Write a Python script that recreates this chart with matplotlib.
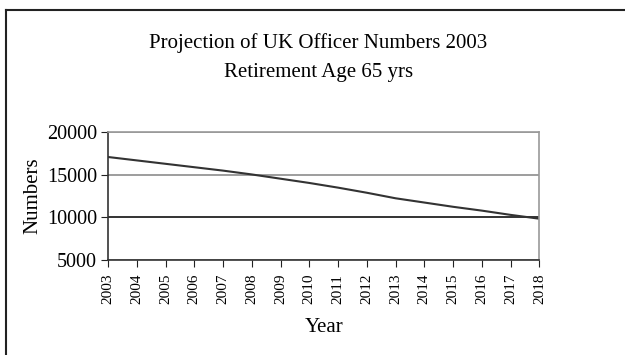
import matplotlib
matplotlib.use("Agg")
import matplotlib.pyplot as plt
from matplotlib.lines import Line2D

plt.rcParams['font.family'] = ['Liberation Serif', 'DejaVu Serif']

# projected officer numbers, retirement age 65
years = list(range(2003, 2019))
numbers = [17100, 16700, 16300, 15900, 15500, 15050, 14550, 14050,
           13500, 12900, 12250, 11750, 11250, 10800, 10300, 9850]
y_ticks = [5000, 10000, 15000, 20000]

fig = plt.figure(figsize=(6.25, 3.55), dpi=100)
ax = fig.add_axes([0.1728, 0.2676, 0.863 - 0.1728, 0.6273 - 0.2676])

ax.plot(years, numbers, color='#333333', linewidth=1.5)

ax.set_xlim(2003, 2018)
ax.set_ylim(5000, 20000)
ax.set_xticks(years)
ax.set_xticklabels([str(y) for y in years], rotation=90, fontsize=11)
ax.set_yticks(y_ticks)
ax.set_yticklabels([str(v) for v in y_ticks], fontsize=14.5)
ax.tick_params(axis='both', direction='out', length=5, width=0.8, color='#222222')
ax.tick_params(axis='x', pad=5)
ax.tick_params(axis='y', pad=3)

# horizontal grid lines, the 10000 line is drawn darker
ax.yaxis.grid(True)
for val, gl in zip(y_ticks, ax.yaxis.get_gridlines()):
    if val == 10000:
        gl.set_color('#111111')
    else:
        gl.set_color('#8c8c8c')
    gl.set_linewidth(1.2)
ax.set_axisbelow(True)

ax.spines['left'].set_color('#333333')
ax.spines['bottom'].set_color('#333333')
ax.spines['top'].set_color('#999999')
ax.spines['right'].set_color('#999999')
for s in ax.spines.values():
    s.set_linewidth(1.2)

ax.set_ylabel('Numbers', fontsize=15, labelpad=3)
ax.set_xlabel('Year', fontsize=15, labelpad=10)

fig.text(0.509, 1 - 43 / 355, 'Projection of UK Officer Numbers 2003',
         ha='center', va='center', fontsize=15)
fig.text(0.509, 1 - 72 / 355, 'Retirement Age 65 yrs',
         ha='center', va='center', fontsize=15)

# chart border (top and left edges)
fig.add_artist(Line2D([6 / 625, 1.0], [1 - 10 / 355, 1 - 10 / 355],
                      color='#222222', linewidth=1.5))
fig.add_artist(Line2D([6 / 625, 6 / 625], [0.0, 1 - 10 / 355],
                      color='#222222', linewidth=1.5))

fig.savefig('out.png', dpi=100)
